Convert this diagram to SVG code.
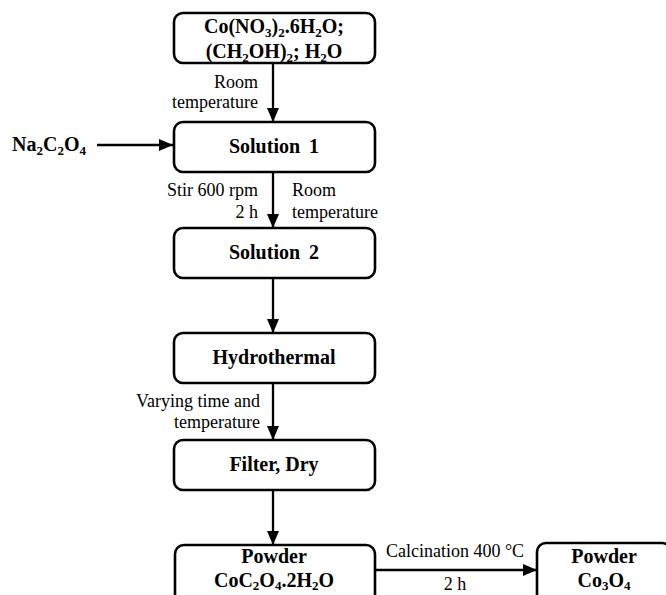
<svg xmlns="http://www.w3.org/2000/svg" width="666" height="595" viewBox="0 0 666 595">
<style>
.box{fill:#fff;stroke:#000;stroke-width:2.6}
.b{font-family:"Liberation Serif","Times New Roman",serif;font-weight:bold;font-size:20px;fill:#000}
.r{font-family:"Liberation Serif","Times New Roman",serif;font-size:18px;fill:#000}
.c{stroke:#000;stroke-width:2.3;fill:none;marker-end:url(#ah)}
</style>
<defs>
<marker id="ah" markerWidth="14" markerHeight="12" refX="14" refY="6" orient="auto" markerUnits="userSpaceOnUse">
<path d="M0,0 L14,6 L0,12 Z" fill="#000"/>
</marker>
</defs>
<rect width="666" height="595" fill="#fff"/>
<g id="connectors">
<line class="c" x1="273" y1="63" x2="273" y2="122"/>
<line class="c" x1="97" y1="145" x2="173" y2="145"/>
<line class="c" x1="273" y1="172" x2="273" y2="228"/>
<line class="c" x1="273" y1="278" x2="273" y2="333"/>
<line class="c" x1="273" y1="383" x2="273" y2="440"/>
<line class="c" x1="273" y1="490" x2="273" y2="545"/>
<line class="c" x1="375" y1="570" x2="537" y2="570"/>
<text class="r" x="258" y="88" text-anchor="end">Room</text>
<text class="r" x="258" y="108" text-anchor="end">temperature</text>
<text class="r" x="258" y="196" text-anchor="end">Stir 600 rpm</text>
<text class="r" x="258" y="218" text-anchor="end">2 h</text>
<text class="r" x="292" y="196">Room</text>
<text class="r" x="292" y="218">temperature</text>
<text class="r" x="260" y="407" text-anchor="end">Varying time and</text>
<text class="r" x="260" y="428" text-anchor="end">temperature</text>
<text class="r" x="455" y="557" text-anchor="middle">Calcination 400 °C</text>
<text class="r" x="455" y="590" text-anchor="middle">2 h</text>
</g>
<g id="reagents">
<rect class="box" x="174" y="13" width="201" height="50" rx="9"/>
<text class="b" x="274" y="33" text-anchor="middle">Co(NO<tspan font-size="13" dy="4">3</tspan><tspan dy="-4">)</tspan><tspan font-size="13" dy="4">2</tspan><tspan dy="-4">.6H</tspan><tspan font-size="13" dy="4">2</tspan><tspan dy="-4">O;</tspan></text>
<text class="b" x="274" y="58" text-anchor="middle">(CH<tspan font-size="13" dy="4">2</tspan><tspan dy="-4">OH)</tspan><tspan font-size="13" dy="4">2</tspan><tspan dy="-4">; H</tspan><tspan font-size="13" dy="4">2</tspan><tspan dy="-4">O</tspan></text>
</g>
<g id="na2c2o4">
<text class="b" x="12" y="151">Na<tspan font-size="13" dy="4">2</tspan><tspan dy="-4">C</tspan><tspan font-size="13" dy="4">2</tspan><tspan dy="-4">O</tspan><tspan font-size="13" dy="4">4</tspan></text>
</g>
<g id="solution1">
<rect class="box" x="174" y="122" width="201" height="50" rx="9"/>
<text class="b" x="274" y="153" text-anchor="middle" word-spacing="4">Solution 1</text>
</g>
<g id="solution2">
<rect class="box" x="174" y="228" width="201" height="50" rx="9"/>
<text class="b" x="274" y="259" text-anchor="middle" word-spacing="4">Solution 2</text>
</g>
<g id="hydrothermal">
<rect class="box" x="174" y="333" width="201" height="50" rx="9"/>
<text class="b" x="274" y="364" text-anchor="middle">Hydrothermal</text>
</g>
<g id="filterdry">
<rect class="box" x="174" y="440" width="201" height="50" rx="9"/>
<text class="b" x="274" y="471" text-anchor="middle">Filter, Dry</text>
</g>
<g id="powder1">
<rect class="box" x="175" y="545" width="200" height="60" rx="9"/>
<text class="b" x="274" y="563" text-anchor="middle">Powder</text>
<text class="b" x="274" y="587" text-anchor="middle">CoC<tspan font-size="13" dy="3">2</tspan><tspan dy="-3">O</tspan><tspan font-size="13" dy="3">4</tspan><tspan dy="-3">.2H</tspan><tspan font-size="13" dy="3">2</tspan><tspan dy="-3">O</tspan></text>
</g>
<g id="powder2">
<rect class="box" x="537" y="543" width="134" height="62" rx="9"/>
<text class="b" x="604" y="563" text-anchor="middle">Powder</text>
<text class="b" x="604" y="587" text-anchor="middle">Co<tspan font-size="13" dy="3">3</tspan><tspan dy="-3">O</tspan><tspan font-size="13" dy="3">4</tspan></text>
</g>
</svg>
